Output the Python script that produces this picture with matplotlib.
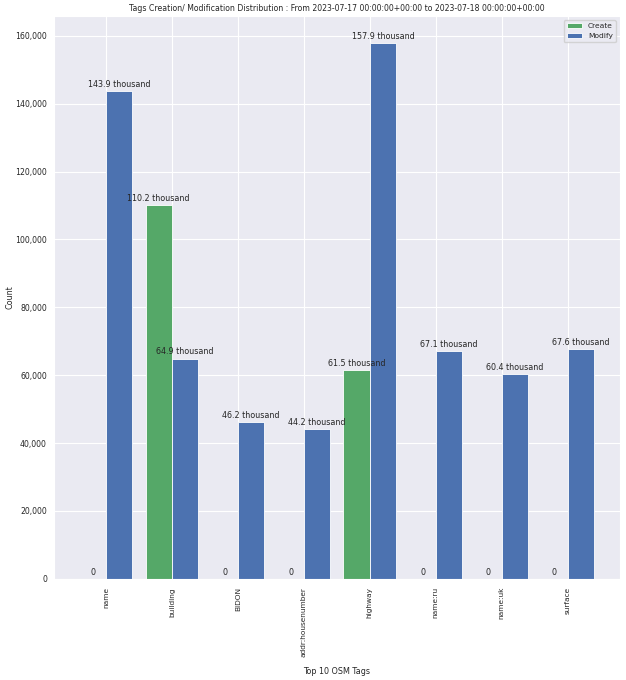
import numpy as np
import matplotlib
matplotlib.use('Agg')
import matplotlib.pyplot as plt
import seaborn as sns

# --- data ---
tags = ['name', 'building', 'BIDON', 'addr:housenumber', 'highway',
        'name:ru', 'name:uk', 'surface']
create_counts = [0, 110200, 0, 0, 61500, 0, 0, 0]
modify_counts = [143900, 64900, 46200, 44200, 157900, 67100, 60400, 67600]

TITLE = ('Tags Creation/ Modification Distribution : From '
         '2023-07-17 00:00:00+00:00 to 2023-07-18 00:00:00+00:00')


def humanize(v):
    """Mimic humanize.intword style labels."""
    if v >= 1000:
        return f"{v / 1000:.1f} thousand"
    return str(v)


sns.set_style('darkgrid')
plt.rcParams['font.family'] = ['DejaVu Sans']

fig = plt.figure(figsize=(6.26, 6.8), dpi=100)
ax = fig.add_axes([0.086, 0.149, 0.904, 0.827])

x = np.arange(len(tags))
width = 0.4

bars_c = ax.bar(x - width / 2, create_counts, width, color='#55A868',
                edgecolor='white', linewidth=0.6, label='Create')
bars_m = ax.bar(x + width / 2, modify_counts, width, color='#4C72B0',
                edgecolor='white', linewidth=0.6, label='Modify')

for bars in (bars_c, bars_m):
    for b in bars:
        h = b.get_height()
        ax.annotate(humanize(int(h)), (b.get_x() + b.get_width() / 2, h),
                    xytext=(0, 1.5), textcoords='offset points',
                    ha='center', va='bottom', fontsize=5.8, color='#262626')

ax.set_xticks(x)
ax.set_xticklabels(tags, rotation=90, fontsize=5.3)
ax.tick_params(axis='y', labelsize=5.6, length=0, pad=5)
ax.tick_params(axis='x', length=0, pad=6)
ax.yaxis.set_major_formatter(matplotlib.ticker.FuncFormatter(lambda v, p: f"{int(v):,}"))

ax.set_xlabel('Top 10 OSM Tags', fontsize=5.8, labelpad=7)
ax.set_ylabel('Count', fontsize=5.8, labelpad=0.5)
ax.set_title(TITLE, fontsize=5.6, pad=4)
ax.legend(loc='upper right', fontsize=5.4, frameon=True)

fig.savefig('out.png', dpi=100)
